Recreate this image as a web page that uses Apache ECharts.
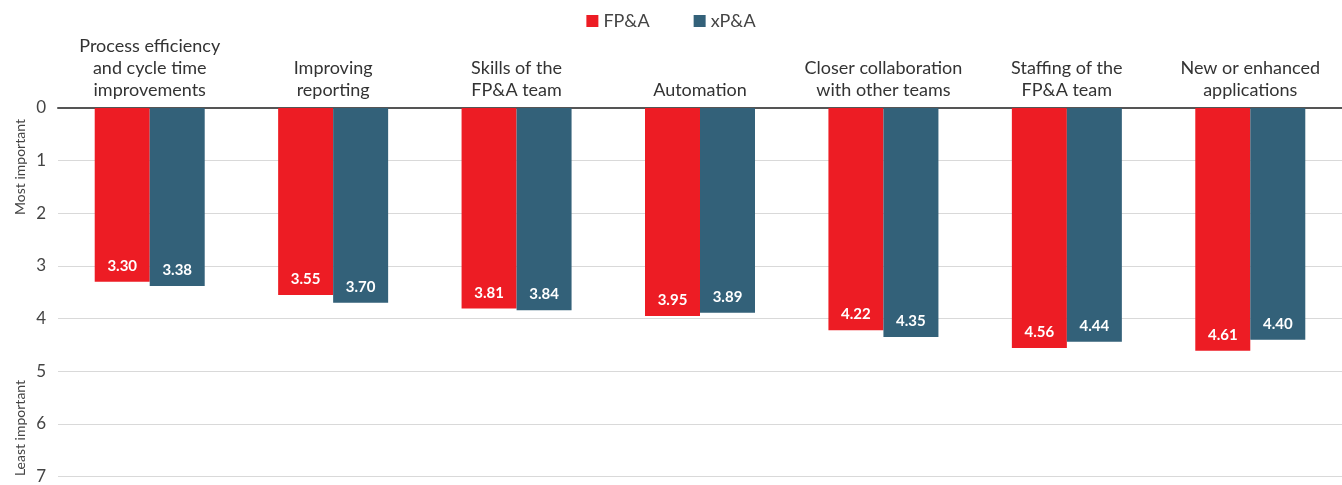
<!DOCTYPE html>
<html>
<head>
<meta charset="utf-8">
<script src="https://cdn.jsdelivr.net/npm/echarts@6/dist/echarts.min.js"></script>
<style>
  html, body { margin: 0; padding: 0; background: #fff; }
  #chart { width: 1342px; height: 485px; }
</style>
</head>
<body>
<div id="chart"></div>
<script>
const categories = [
    'Process efficiency\nand cycle time\nimprovements',
    'Improving\nreporting',
    'Skills of the\nFP&A team',
    'Automation',
    'Closer collaboration\nwith other teams',
    'Staffing of the\nFP&A team',
    'New or enhanced\napplications'
];
const fpaValues = [3.30, 3.55, 3.81, 3.95, 4.22, 4.56, 4.61];
const xpaValues = [3.38, 3.70, 3.84, 3.89, 4.35, 4.44, 4.40];
const seriesNames = ['FP&A', 'xP&A'];
const yTicks = [0, 7, 1];   // min, max, interval

const font = 'Lato, "Open Sans", sans-serif';

const barLabel = {
    show: true,
    position: 'insideBottom',
    distance: 8,
    color: '#fff',
    fontWeight: 'bold',
    fontSize: 15,
    fontFamily: font,
    formatter: p => p.value.toFixed(2)
};

const option = {
    animation: false,
    textStyle: { fontFamily: font },
    legend: {
        top: 7,
        left: 'center',
        itemWidth: 12,
        itemHeight: 12,
        itemGap: 44,
        icon: 'rect',
        textStyle: { fontSize: 18, color: '#444', fontFamily: font },
        data: seriesNames
    },
    grid: { left: 58, right: 0, top: 108, bottom: 8, containLabel: false },
    xAxis: {
        type: 'category',
        position: 'top',
        data: categories,
        axisLine: { lineStyle: { color: '#555', width: 2 } },
        axisTick: { show: false },
        axisLabel: {
            interval: 0,
            margin: 7,
            fontSize: 18,
            lineHeight: 22,
            color: '#333',
            fontFamily: font
        }
    },
    yAxis: {
        type: 'value',
        inverse: true,
        min: yTicks[0],
        max: yTicks[1],
        interval: yTicks[2],
        axisLine: { show: false },
        axisTick: { show: false },
        splitLine: { lineStyle: { color: '#d9d9d9', width: 1 } },
        axisLabel: { fontSize: 17, color: '#444', margin: 12, fontFamily: font }
    },
    graphic: [
        {
            type: 'text', x: 20, y: 167, rotation: Math.PI / 2,
            style: { text: 'Most important', fontSize: 14, fill: '#444', fontFamily: font,
                     textAlign: 'center', textVerticalAlign: 'middle' }
        },
        {
            type: 'text', x: 20, y: 428, rotation: Math.PI / 2,
            style: { text: 'Least important', fontSize: 14, fill: '#444', fontFamily: font,
                     textAlign: 'center', textVerticalAlign: 'middle' }
        }
    ],
    series: [
        {
            name: seriesNames[0],
            type: 'bar',
            data: fpaValues,
            barWidth: 55,
            barGap: '0%',
            itemStyle: { color: '#ED1C24' },
            label: barLabel
        },
        {
            name: seriesNames[1],
            type: 'bar',
            data: xpaValues,
            barWidth: 55,
            barGap: '0%',
            itemStyle: { color: '#336179' },
            label: barLabel
        }
    ]
};

const myChart = echarts.init(document.getElementById('chart'));
myChart.setOption(option);
</script>
</body>
</html>
